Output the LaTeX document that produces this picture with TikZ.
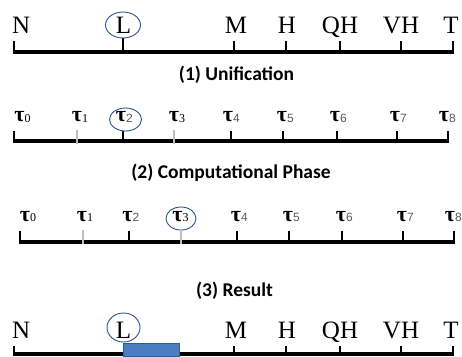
\documentclass[tikz,border=0pt]{standalone}
\usepackage{fontspec}
\setmainfont{Liberation Serif}
\newfontfamily\titlefont{Carlito}
\newfontfamily\subsans{Liberation Sans}
\usetikzlibrary{shapes.geometric}
\definecolor{ringblue}{RGB}{47,82,143}
\definecolor{barblue}{RGB}{74,126,192}
\definecolor{bardraw}{RGB}{52,90,150}
\definecolor{tickgray}{RGB}{190,190,190}
\tikzset{
  axisline/.style={line width=3.6pt},
  tickline/.style={line width=1.1pt},
  graytick/.style={line width=2.6pt, draw=tickgray},
  serlab/.style={font=\fontsize{25}{25}\selectfont, inner sep=0pt},
  taulab/.style={font=\fontsize{22}{22}\selectfont\bfseries, inner sep=0pt, anchor=base},
  ring/.style={draw=ringblue, line width=0.9pt, ellipse, inner sep=0pt},
  title/.style={font=\titlefont\bfseries\fontsize{19.5}{19.5}\selectfont, inner sep=0pt, anchor=base},
}
\newcommand{\subd}[1]{\rlap{\raisebox{-0.5pt}{\fontsize{12}{12}\selectfont\mdseries #1}}}
\newcommand{\subg}[1]{\rlap{\raisebox{-0.5pt}{\subsans\fontsize{12}{12}\selectfont\mdseries\color{black!65}#1}}}
\begin{document}
\begin{tikzpicture}[x=1pt,y=-1pt]
\useasboundingbox (0,0) rectangle (462,356);

% ---------- Row 1 ----------
\draw[axisline] (13,51.7) coordinate (a1s) -- (454,51.7) coordinate (a1e);
\foreach \x in {14,234,286,340,401,453} \draw[tickline] (\x,41) -- (\x,51.7);
\node[serlab, anchor=base west] (r1N) at (12,33) {N};
\node[serlab, anchor=base] (r1L) at (123.5,33) {L};
\node[serlab, anchor=base] (r1M) at (236,33) {M};
\node[serlab, anchor=base] (r1H) at (287,33) {H};
\node[serlab, anchor=base] (r1QH) at (340,33) {QH};
\node[serlab, anchor=base] (r1VH) at (401,33) {VH};
\node[serlab, anchor=base] (r1T) at (451,33) {T};
\node[ring, minimum width=35pt, minimum height=26pt] (c1) at (123,25) {};
\draw[tickline] (c1.south) -- (c1.south |- a1s);
\node[title] (t1) at (236.5,80) {(1) Unification};

% ---------- Row 2 ----------
\draw[axisline] (13,141) coordinate (a2s) -- (449,141) coordinate (a2e);
\foreach \x in {14,231,283,337,397,448} \draw[tickline] (\x,131) -- (\x,141);
\foreach \x in {77,174} \draw[graytick] (\x,130) -- (\x,143.5);
\draw[tickline] (123,131) -- (123,141);
\node[taulab] (s0) at (19.5,121.5) {τ\subd{0}};
\node[taulab] (s1) at (77,121.5) {τ\subd{1}};
\node[taulab] (s2) at (121,121.5) {τ\subg{2}};
\node[taulab] (s3) at (174,121.5) {τ\subd{3}};
\node[taulab] (s4) at (228,121.5) {τ\subg{4}};
\node[taulab] (s5) at (282,121.5) {τ\subg{5}};
\node[taulab] (s6) at (335,121.5) {τ\subg{6}};
\node[taulab] (s7) at (395,121.5) {τ\subg{7}};
\node[taulab] (s8) at (444,121.5) {τ\subg{8}};
\node[ring, minimum width=32pt, minimum height=23pt] (c2) at (125.5,119.5) {};
\node[title] (t2) at (231,178.5) {(2) Computational Phase};

% ---------- Row 3 ----------
\draw[axisline] (19,241.7) coordinate (a3s) -- (455,241.7) coordinate (a3e);
\foreach \x in {20,129,237,289,342,403,454} \draw[tickline] (\x,231) -- (\x,241.7);
\draw[graytick] (83,230) -- (83,244);
\node[taulab] (u0) at (25,221) {τ\subd{0}};
\node[taulab] (u1) at (82,221) {τ\subd{1}};
\node[taulab] (u2) at (127.5,221) {τ\subg{2}};
\node[taulab] (u3) at (177.5,221) {τ\subd{3}};
\node[taulab] (u4) at (236,221) {τ\subg{4}};
\node[taulab] (u5) at (288,221) {τ\subg{5}};
\node[taulab] (u6) at (341,221) {τ\subg{6}};
\node[taulab] (u7) at (402,221) {τ\subg{7}};
\node[taulab] (u8) at (450,221) {τ\subg{8}};
\node[ring, minimum width=30pt, minimum height=23pt] (c3) at (181,218.5) {};
\draw[graytick] (c3.south) -- (c3.south |- 0,244);
\node[title] (t3) at (234.5,296) {(3) Result};

% ---------- Row 4 ----------
\draw[axisline] (13,353.7) coordinate (a4s) -- (454,353.7) coordinate (a4e);
\foreach \x in {14,234,286,340,401,453} \draw[tickline] (\x,346) -- (\x,353.7);
\node[serlab, anchor=base west] (r4N) at (12,338) {N};
\node[serlab, anchor=base] (r4L) at (123.5,338) {L};
\node[serlab, anchor=base] (r4M) at (236,338) {M};
\node[serlab, anchor=base] (r4H) at (287,338) {H};
\node[serlab, anchor=base] (r4QH) at (340,338) {QH};
\node[serlab, anchor=base] (r4VH) at (401,338) {VH};
\node[serlab, anchor=base] (r4T) at (451,338) {T};
\node[ring, minimum width=33pt, minimum height=29pt] (c4) at (123.5,327.5) {};
\draw[fill=barblue, draw=bardraw, line width=0.6pt] (123.5,343.3) rectangle (179,356.5);
\end{tikzpicture}
\end{document}
